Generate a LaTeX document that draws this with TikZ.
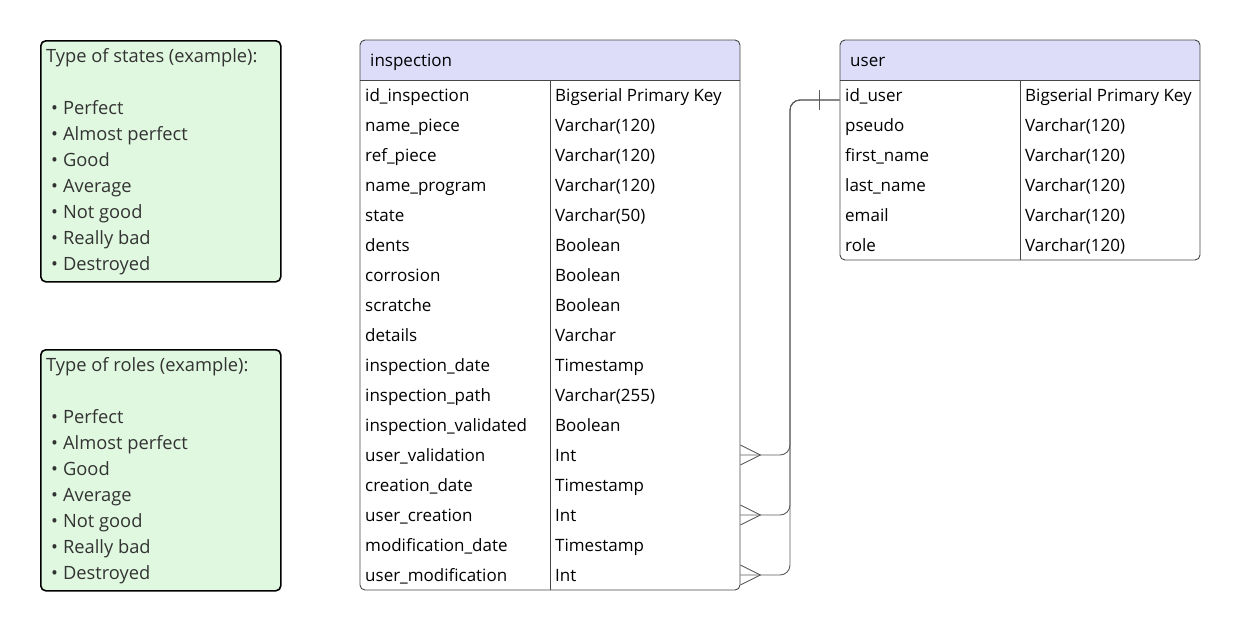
\documentclass[tikz,border=0pt]{standalone}
\usepackage{fontspec}
\setmainfont{Open Sans}
\usetikzlibrary{positioning}
\definecolor{notefill}{RGB}{224,248,224}
\definecolor{notetext}{RGB}{51,51,51}
\definecolor{headfill}{RGB}{221,221,250}
\definecolor{tableline}{RGB}{70,70,70}
\definecolor{relline}{RGB}{90,90,90}
\newcommand{\notebullet}{\hspace*{5pt}•\hspace{5pt}}
\tikzset
{
	notebox/.style = {draw=black, line width=1.6pt, rounded corners=5pt, fill=notefill, minimum width=240, minimum height=241, anchor=north west},
	notetext/.style = {anchor=base west, align=left, text=notetext, inner sep=0pt, font=\fontsize{18.3}{26}\selectfont},
	tablebox/.style = {draw=tableline, line width=0.9pt, rounded corners=5pt},
	headtext/.style = {anchor=base west, inner sep=0pt, font=\fontsize{17}{20}\selectfont},
	fieldname/.style = {anchor=base west, inner sep=0pt, font=\fontsize{17}{20}\selectfont},
	rel/.style = {draw=relline, line width=0.9pt}
}

\begin{document}
\begin{tikzpicture}[x=1pt, y=-1pt]
\useasboundingbox (0,0) rectangle (1240,630);

% notes (placed by the baseline of their last line)
\node[notebox] (states) at (40,40) {};
\node[notetext] (states-text) at (46,270) {Type of states (example):\\[26pt]
  \notebullet Perfect\\ \notebullet Almost perfect\\ \notebullet Good\\ \notebullet Average\\
  \notebullet Not good\\ \notebullet Really bad\\ \notebullet Destroyed};
\node[notebox] (roles) at (40,349) {};
\node[notetext] (roles-text) at (46,579) {Type of roles (example):\\[26pt]
  \notebullet Perfect\\ \notebullet Almost perfect\\ \notebullet Good\\ \notebullet Average\\
  \notebullet Not good\\ \notebullet Really bad\\ \notebullet Destroyed};

% inspection table
\fill[headfill] (360,80) [rounded corners=5pt] -- (360,40) -- (740,40) [sharp corners] -- (740,80) -- cycle;
\node[tablebox, minimum width=380, minimum height=550] (inspection) at (550,315) {};
\draw[tableline, line width=0.9pt] (360,80) -- (740,80);
\draw[tableline, line width=0.9pt] (550,80) -- (550,590);
\node[headtext] (inspection-title) at (370,66) {inspection};
\foreach \fname/\ftype [count=\i] in {id\_inspection/Bigserial Primary Key, name\_piece/Varchar(120),
  ref\_piece/Varchar(120), name\_program/Varchar(120), state/Varchar(50), dents/Boolean,
  corrosion/Boolean, scratche/Boolean, details/Varchar, inspection\_date/Timestamp,
  inspection\_path/Varchar(255), inspection\_validated/Boolean, user\_validation/Int,
  creation\_date/Timestamp, user\_creation/Int, modification\_date/Timestamp, user\_modification/Int}
{
  \node[fieldname] (insp-f\i) at (365,71+30*\i) {\fname};
  \node[fieldname] (insp-t\i) at (555,71+30*\i) {\ftype};
}

% user table
\fill[headfill] (840,80) [rounded corners=5pt] -- (840,40) -- (1200,40) [sharp corners] -- (1200,80) -- cycle;
\node[tablebox, minimum width=360, minimum height=220] (user) at (1020,150) {};
\draw[tableline, line width=0.9pt] (840,80) -- (1200,80);
\draw[tableline, line width=0.9pt] (1020,80) -- (1020,260);
\node[headtext] (user-title) at (850,66) {user};
\foreach \fname/\ftype [count=\i] in {id\_user/Bigserial Primary Key, pseudo/Varchar(120),
  first\_name/Varchar(120), last\_name/Varchar(120), email/Varchar(120), role/Varchar(120)}
{
  \node[fieldname] (user-f\i) at (845,71+30*\i) {\fname};
  \node[fieldname] (user-t\i) at (1025,71+30*\i) {\ftype};
}

% relations
\coordinate (uid) at ([yshift=1pt]user-f1.base west -| user.west);
\coordinate (trunk) at (790,100);
\draw[rel] ([xshift=-20pt,yshift=10pt]uid) -- ([xshift=-20pt,yshift=-10pt]uid);
\foreach \r in {13,15,17}
{
  \coordinate (foot\r) at ([yshift=6pt]insp-f\r.base -| inspection.east);
  \draw[rel, rounded corners=10pt] (uid) -| (trunk |- foot\r) -- (foot\r);
  \draw[rel] ([yshift=10pt]foot\r) -- ([xshift=20pt]foot\r) -- ([yshift=-10pt]foot\r);
}
\end{tikzpicture}
\end{document}
